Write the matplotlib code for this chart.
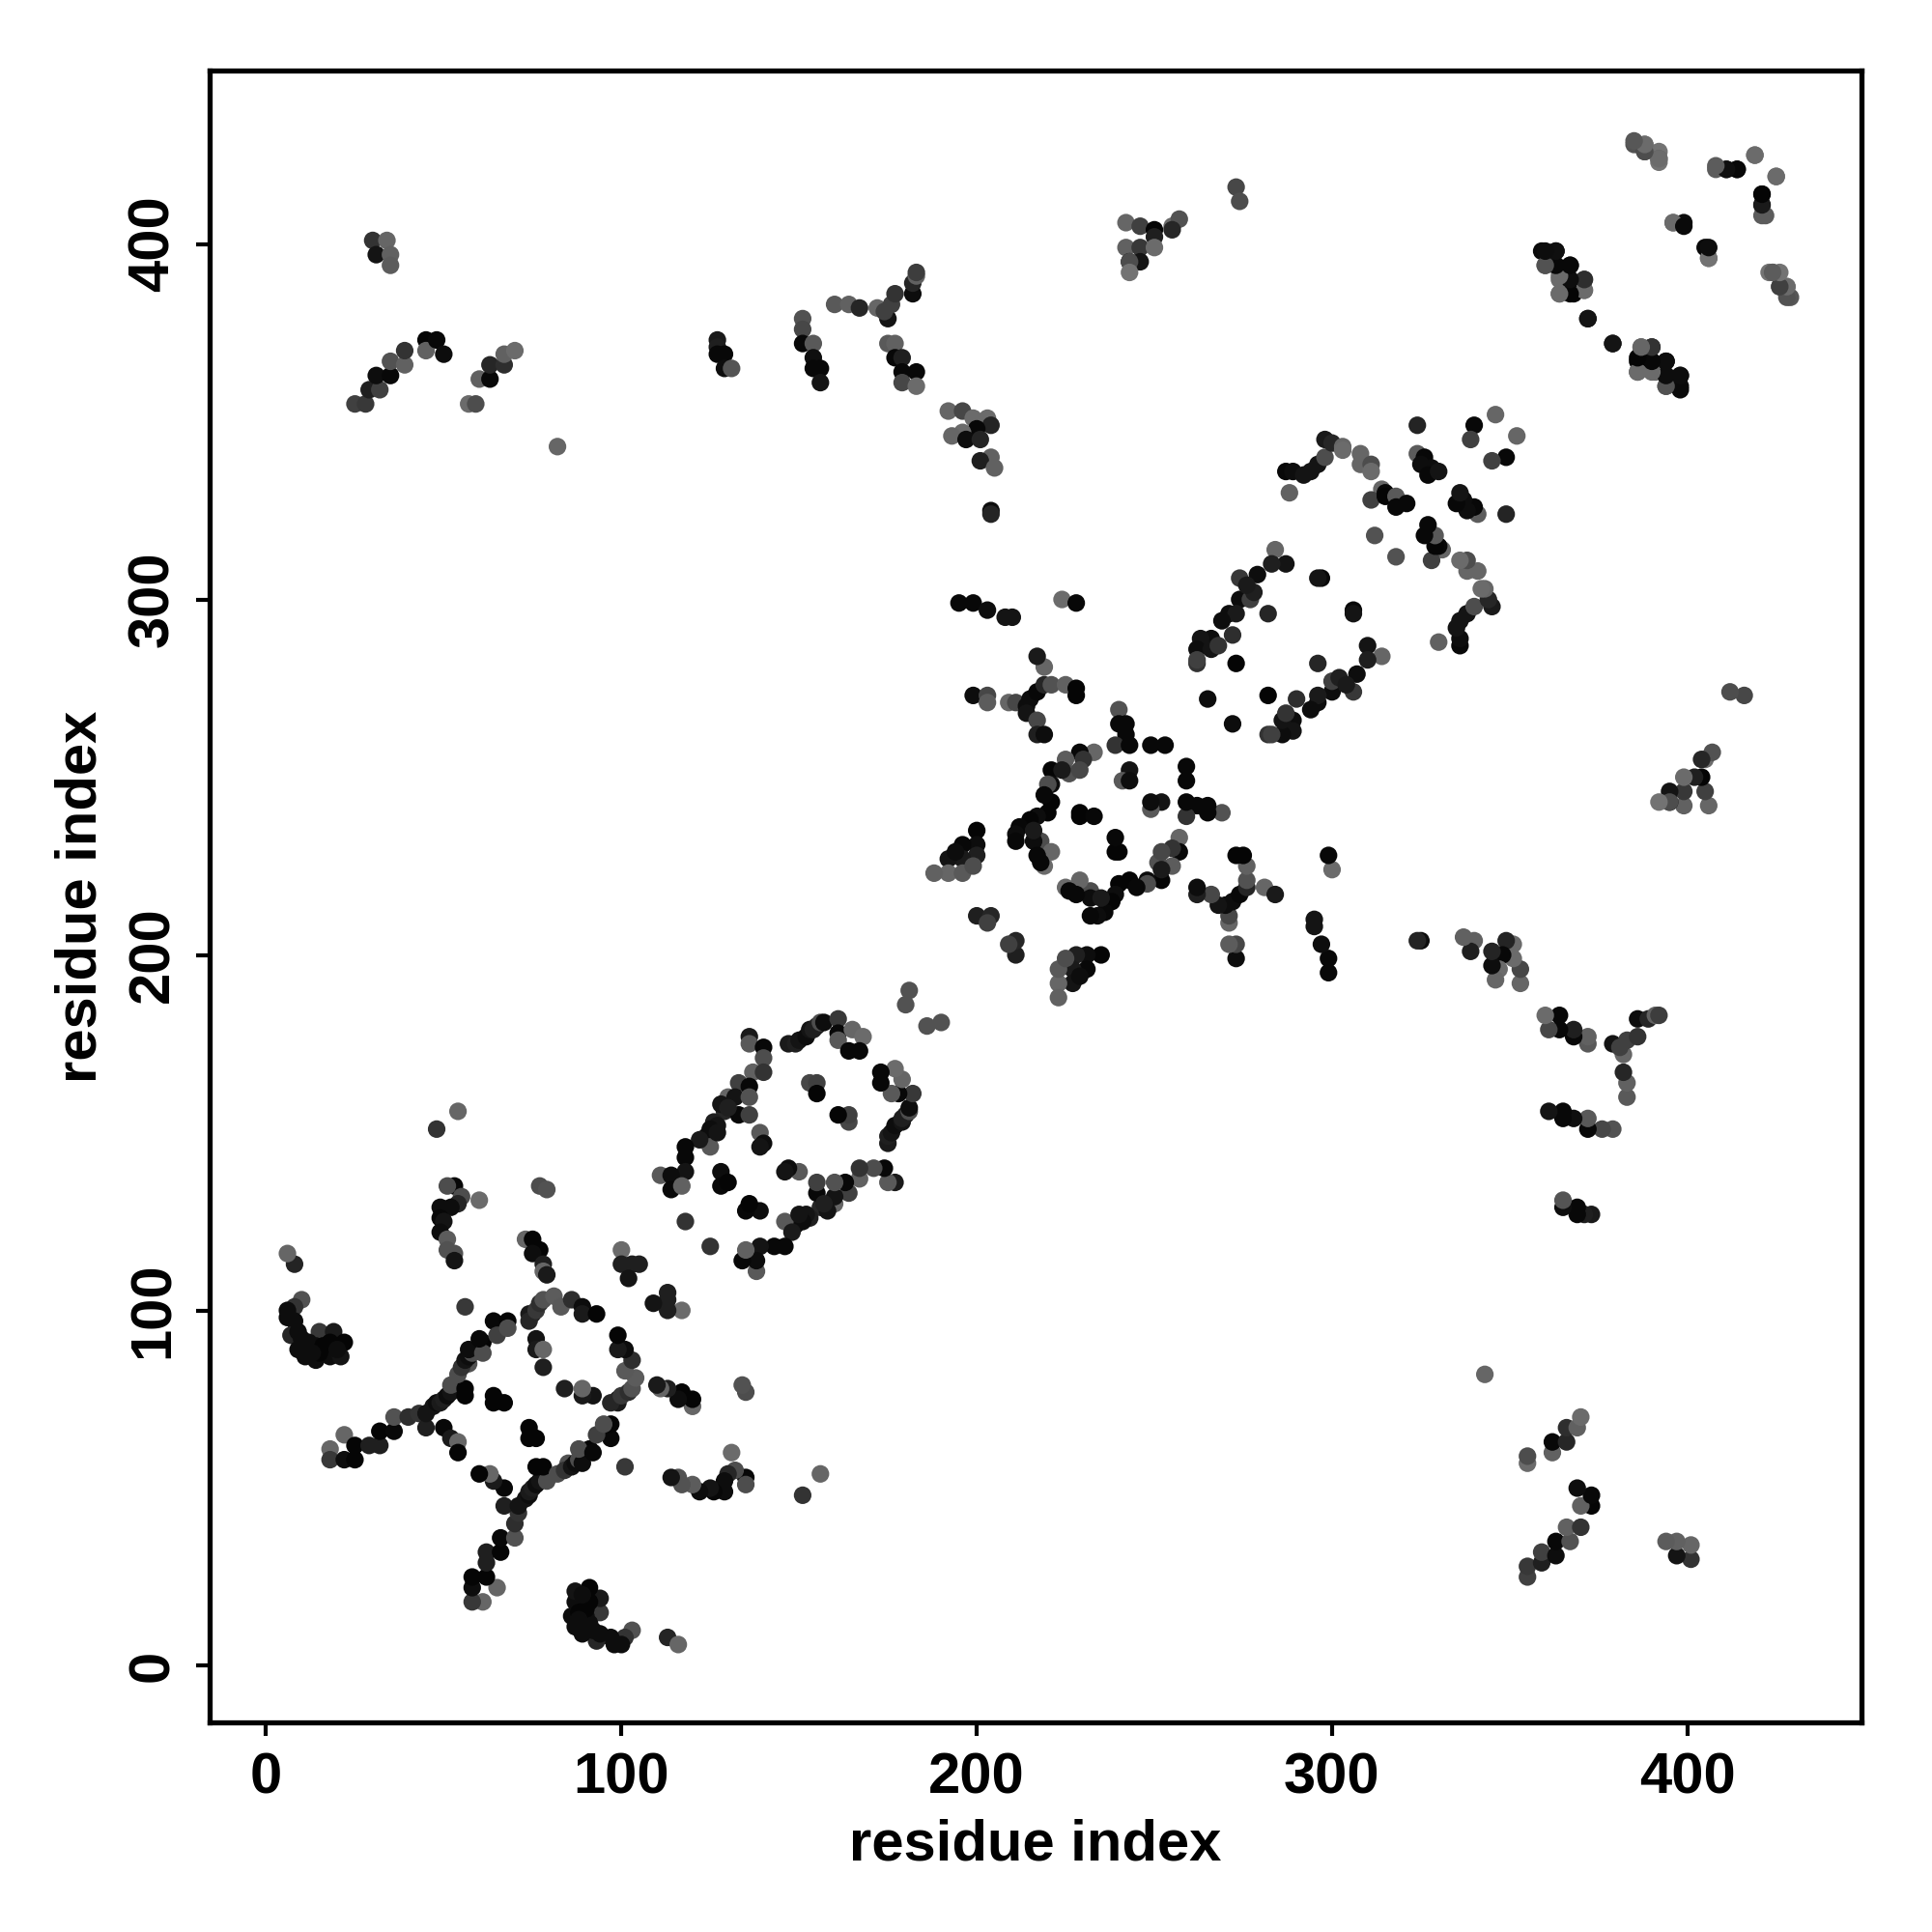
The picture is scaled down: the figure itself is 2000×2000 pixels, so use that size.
import matplotlib
matplotlib.use("Agg")
import matplotlib.pyplot as plt
import numpy as np

plt.rcParams['font.family'] = ['Liberation Sans', 'DejaVu Sans']

# Contacts are symmetric: each (i, j) is also shown as (j, i). g = grey level in percent of 255.
nterm_i = [10,8,6,6,8,7,9,15,19,22,18,14,9,11,14,18,21,12,15,16,20,13,10,8,6]
nterm_j = [103,101,100,98,97,93,94,94,94,91,91,90,89,87,86,87,87,91,88,90,89,88,92,113,116]
nterm_g = [32,20,5,5,5,15,5,22,10,2,2,5,5,5,5,5,8,5,2,2,5,5,5,14,40]

chain_i = [18,22,18,22,25,25,29,32,32,36,36,40,43,45,45,47,48,49,50,51,52,53,52,56,56,54,57,55,56,57,58,57,61,61,60,64,68,65,68,
           50,52,54,54,56,64,64,67,74,76,76,78,78,75,74,76,77,78,81,83,86,89,89,93]
chain_j = [61,65,58,58,62,58,62,62,66,66,70,70,71,67,71,73,74,74,75,76,77,78,79,78,76,82,85,84,86,87,88,89,91,88,92,97,97,93,95,
           67,64,63,60,101,76,74,74,99,92,89,89,84,99,97,100,102,103,104,101,103,101,99,99]
chain_g = [40,40,22,5,2,2,12,12,2,3,32,18,20,12,8,8,5,10,12,5,8,8,30,2,2,30,32,20,8,5,30,5,2,30,3,3,2,25,30,
           3,10,40,2,22,2,2,2,10,8,10,40,12,10,15,22,18,32,36,35,18,5,10,2]

helix_a_i = [53,51,55,54,52,49,49,50,49,51,51,53,53,77,79,60,73,75,77,75,78,78,79,100,100,103,105,102,118]
helix_a_j = [135,135,132,130,129,129,126,125,122,120,117,116,114,135,134,131,120,120,117,116,113,111,110,117,113,113,113,109,125]
helix_a_g = [3,30,30,15,5,5,3,8,5,36,32,32,8,30,32,42,40,2,2,5,12,40,10,42,12,12,12,8,20]

ring_b_i = [136,136,140,140,137,140,133,136,130,132,136,129,133,136,126,127,125,124,125,122,128,130,127,139,140,139,
            118,118,118,111,114,114,117,128,128,130,147,149,150,152,153,154,155,156,157,161,161,161,165,168,164,167,153,155,155,48,54,181,180]
ring_b_j = [177,175,174,171,167,167,164,163,160,160,160,156,155,155,153,152,151,149,146,148,158,157,150,150,147,146,
            146,143,139,138,138,134,135,139,135,136,175,175,176,177,179,179,180,181,181,182,178,176,179,177,173,173,164,164,161,151,156,190,186]
ring_b_g = [10,35,3,30,38,20,25,3,40,8,32,15,3,25,12,8,5,5,35,10,8,12,8,35,5,8,
            3,3,8,35,5,3,38,5,3,2,10,12,8,5,8,12,12,30,5,22,3,35,40,42,3,3,28,25,2,20,40,32,32]

ring_c_i = [219,217,199,203,203,209,211,214,215,217,219,221,225,228,228,214,217,217,219,240,242,240,242,239,243,243,241,243,249,253,
            221,221,220,233,229,230,225,226,229,221,220,217,215,212,211,211,229,229,233,218,216,221,217,219,218,
            200,200,196,200,196,192,192,188,196,199,194,200,204,203,216,224,219]
ring_c_j = [281,284,273,273,271,271,271,270,272,274,276,276,276,275,273,268,266,262,262,269,265,265,262,259,259,252,249,249,259,259,
            252,248,248,257,257,255,255,251,252,243,240,239,238,236,234,232,240,239,239,232,232,229,228,225,226,
            235,231,231,228,227,227,223,223,223,225,229,211,211,209,235,252,245]
ring_c_g = [40,10,5,28,36,40,28,5,5,3,15,32,38,2,2,8,28,12,5,32,3,3,3,20,3,8,35,5,3,3,
            2,5,30,40,3,20,36,32,28,2,2,5,2,3,5,3,2,2,3,30,5,40,3,42,3,
            2,5,3,12,10,8,40,38,35,30,5,12,15,25,10,10,3]

ring_d_i = [288,287,289,292,294,296,298,298,300,303,303,308,308,311,311,314,311,315,315,318,318,321,312,324,324,326,325,328,327,330,
            340,339,346,284,287,283,279,274,274,277,271,273,269,272,266,263,262,262,266,273,265,297,296,282,262,268,278,276]
ring_d_j = [330,336,336,335,336,338,340,345,344,343,342,341,338,338,336,331,328,330,329,329,326,327,318,349,341,340,338,337,335,336,
            349,345,352,314,310,310,307,306,300,300,296,296,294,290,289,289,286,282,286,282,272,306,306,296,283,287,302,304]
ring_d_g = [38,3,5,8,8,8,30,10,15,40,42,40,40,30,42,40,25,3,2,35,3,3,32,14,36,3,5,5,3,8,
            3,25,40,40,8,12,5,22,5,25,5,10,5,18,5,8,5,20,8,2,5,3,8,15,25,20,12,10]

far_a_i = [30,34,31,35,35,25,28,29,32,31,35,35,39,39,45,45,48,50,57,59,60,63,63,67,67,70,82,127,127,127,129,129,131]
far_a_j = [401,401,397,397,394,355,355,359,359,363,363,367,366,370,373,370,373,369,355,355,362,362,366,366,369,370,343,373,371,369,369,365,365]
far_a_g = [20,40,8,38,36,25,22,12,25,5,3,32,38,20,2,38,3,5,42,30,38,3,15,18,38,42,40,10,12,3,3,5,33]

far_b_i = [151,151,151,154,154,154,156,156,160,164,167,172,175,174,176,177,182,182,183,183,175,177,177,179,179,183,179,183,
           192,196,199,203,204,200,196,193,197,201,204,201,205,204,204]
far_b_j = [379,376,372,372,368,365,365,361,383,383,382,382,379,381,383,386,386,389,391,392,372,372,368,368,364,364,361,360,
           353,353,351,351,349,348,347,346,345,345,340,339,337,325,324]
far_b_g = [32,28,3,35,6,3,3,8,35,38,15,40,8,25,25,20,5,15,38,24,35,38,3,12,3,3,28,42,
           40,28,42,42,14,3,42,40,5,14,38,12,38,5,14]

far_c_i = [242,246,250,250,242,246,250,243,246,243,243,255,257,255,273,274,195,199,203,208,210,224,228]
far_c_j = [406,405,404,402,399,399,399,395,395,395,392,405,407,404,416,412,299,299,297,295,295,300,299]
far_c_g = [40,25,2,12,38,22,42,3,8,30,45,42,32,15,28,30,3,3,5,8,8,42,3]

far_d_i = [385,388,388,392,392,408,411,414,419,425,421,421,422,396,399,406,405,423,424,426,428,429,
           359,363,360,363,367,364,367,371,364,368,371,372,379,387,390,386,390,386,391,394,394,394,398,398]
far_d_j = [428,428,426,426,424,421,421,421,425,419,414,411,408,406,406,396,399,392,392,388,388,385,
           398,398,394,394,394,390,390,390,386,386,387,379,372,371,371,367,367,364,364,367,363,360,363,360]
far_d_g = [32,42,25,45,36,36,10,2,42,42,3,6,36,45,5,42,4,45,42,30,42,34,
           4,5,32,5,5,42,3,20,42,2,40,8,8,42,18,2,5,42,42,3,3,32,6,5]

regions = [(nterm_i, nterm_j, nterm_g), (chain_i, chain_j, chain_g), (helix_a_i, helix_a_j, helix_a_g),
           (ring_b_i, ring_b_j, ring_b_g), (ring_c_i, ring_c_j, ring_c_g), (ring_d_i, ring_d_j, ring_d_g),
           (far_a_i, far_a_j, far_a_g), (far_b_i, far_b_j, far_b_g), (far_c_i, far_c_j, far_c_g), (far_d_i, far_d_j, far_d_g)]

xticks = [0, 100, 200, 300, 400]
axis_label = "residue index"

fig = plt.figure(figsize=(20, 20), dpi=100, facecolor='white')
ax = fig.add_axes([217/2000, 1-1783/2000, (1927-217)/2000, (1783-73)/2000])

for a, b, g in regions:
    n = min(len(a), len(b), len(g))
    a, b = np.array(a[:n]), np.array(b[:n])
    c = np.array(g[:n]) / 100.0
    colors = np.stack([c, c, c], axis=1)
    ax.scatter(np.r_[a, b], np.r_[b, a], s=172, c=np.r_[colors, colors], linewidths=0, zorder=3)

ax.set_xlim(-15.9, 449)
ax.set_ylim(-15.9, 448.8)
ax.set_xticks(xticks)
ax.set_yticks(xticks)
ax.tick_params(axis='both', length=10, width=3, labelsize=43, pad=12)
for t in ax.get_xticklabels():
    t.set_fontweight('bold')
for t in ax.get_yticklabels():
    t.set_fontweight('bold')
    t.set_rotation(90)
    t.set_va('center')
for s in ax.spines.values():
    s.set_linewidth(3.8)
ax.set_xlabel(axis_label, fontsize=43, fontweight='bold', labelpad=10)
ax.set_ylabel(axis_label, fontsize=43, fontweight='bold', labelpad=14)
fig.savefig('out.png', dpi=100, facecolor='white')
for r in regions:
    print(len(r[0]), len(r[1]), len(r[2]))
